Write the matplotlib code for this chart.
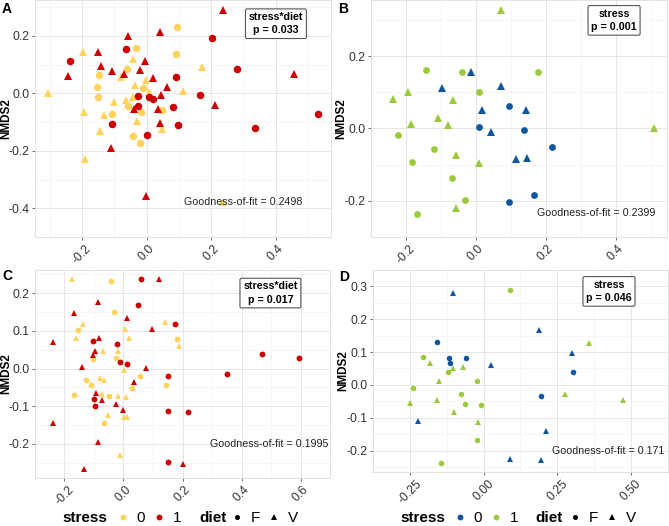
import matplotlib
matplotlib.use('Agg')
import matplotlib.pyplot as plt
from matplotlib.lines import Line2D

plt.rcParams['font.family'] = ['Liberation Sans', 'DejaVu Sans']

# colours
yellow = '#FFD35C'
red = '#CC0000'
blue = '#10569E'
green = '#9BCB3B'

# ---- panel A (stress*diet) ----
a_s1_V = [(0.238, 0.291), (-0.057, 0.200), (0.042, 0.212), (-0.151, 0.144), (-0.142, 0.095),
          (-0.243, 0.061), (-0.107, 0.076), (-0.070, 0.068), (-0.021, 0.080), (-0.005, 0.113),
          (0.020, 0.054), (0.062, 0.021), (0.044, -0.006), (0.037, -0.053), (-0.039, -0.056),
          (0.042, -0.104), (0.212, -0.041), (0.457, 0.067), (-0.109, -0.192), (-0.002, -0.359)]
a_s1_F = [(0.203, 0.192), (-0.238, 0.114), (-0.064, 0.155), (0.279, 0.084), (0.092, 0.056),
          (-0.026, -0.009), (0.009, -0.013), (0.020, -0.019), (-0.026, -0.045), (0.081, -0.049),
          (0.166, -0.006), (0.530, -0.072), (0.337, -0.121), (0.098, -0.110), (-0.107, -0.108),
          (0.000, -0.145)]
a_s0_V = [(-0.304, 0.002), (-0.198, 0.142), (0.171, 0.092), (-0.041, 0.118), (-0.080, 0.056),
          (-0.001, 0.045), (-0.037, 0.030), (0.009, 0.006), (0.113, 0.007), (-0.100, -0.032),
          (-0.063, -0.022), (-0.043, -0.014), (-0.193, -0.064), (-0.131, -0.076), (-0.030, -0.098),
          (-0.145, -0.132), (0.048, -0.124), (-0.191, -0.229), (0.236, -0.379)]
a_s0_F = [(0.093, 0.231), (0.091, 0.138), (-0.033, 0.159), (-0.148, 0.064), (-0.061, 0.084),
          (-0.152, 0.023), (-0.150, -0.014), (-0.012, 0.020), (-0.059, -0.045), (-0.018, -0.065),
          (-0.108, -0.072), (-0.043, -0.149), (-0.019, -0.172), (0.047, -0.057)]

# ---- panel B (stress) ----
b_s1_V = [(0.071, 0.327), (-0.236, 0.081), (-0.194, 0.100), (-0.064, 0.080), (-0.108, 0.028),
          (-0.186, 0.012), (-0.080, 0.010), (-0.057, -0.073), (0.009, -0.095), (-0.058, -0.220),
          (0.510, 0.002)]
b_s1_F = [(-0.144, 0.161), (-0.040, 0.156), (0.179, 0.156), (0.010, 0.101), (-0.222, -0.018),
          (-0.119, -0.056), (-0.184, -0.092), (-0.069, -0.136), (-0.031, -0.197), (-0.169, -0.237)]
b_s0_V = [(-0.013, 0.156), (-0.096, 0.113), (0.071, 0.118), (0.017, 0.050), (0.143, 0.051),
          (0.044, -0.010), (0.114, -0.083), (0.146, -0.081)]
b_s0_F = [(0.096, 0.061), (0.009, 0.003), (0.138, -0.003), (0.217, -0.051), (0.167, -0.183),
          (0.095, -0.203)]

# ---- panel C (stress*diet) ----
c_s0_V = [(-0.174, 0.236), (-0.136, 0.119), (-0.162, 0.081), (0.006, 0.104), (0.019, 0.082),
          (0.141, 0.123), (0.188, 0.059), (-0.018, 0.047), (-0.071, 0.046), (0.002, -0.003),
          (-0.080, -0.025), (-0.067, -0.031), (-0.074, -0.068), (-0.019, -0.072), (0.008, -0.076),
          (-0.052, -0.124), (0.002, -0.128), (0.012, -0.128), (-0.012, -0.228)]
c_s0_F = [(-0.041, 0.232), (-0.031, 0.151), (-0.154, 0.103), (0.182, 0.079), (-0.027, 0.027),
          (-0.102, 0.024), (0.055, -0.019), (-0.126, -0.031), (-0.109, -0.044), (0.028, -0.051),
          (0.145, -0.044), (-0.167, -0.069), (-0.048, -0.073), (-0.065, -0.145)]
c_s1_V = [(0.122, 0.236), (-0.088, 0.175), (-0.167, 0.148), (0.013, 0.133), (0.096, 0.106),
          (-0.238, 0.071), (-0.083, 0.080), (-0.095, 0.046), (-0.103, 0.037), (-0.141, 0.004),
          (0.075, 0.002), (0.035, -0.035), (-0.094, -0.065), (-0.074, -0.084), (-0.024, -0.093),
          (0.000, -0.111), (-0.238, -0.144), (-0.085, -0.195), (-0.134, -0.265), (0.202, -0.252)]
c_s1_F = [(0.061, 0.236), (0.049, 0.167), (0.176, 0.119), (-0.103, 0.073), (-0.021, 0.064),
          (0.011, 0.012), (-0.012, 0.018), (0.469, 0.039), (0.594, 0.029), (0.351, -0.015),
          (0.150, -0.020), (-0.100, -0.081), (-0.096, -0.100), (0.150, -0.113), (0.219, -0.114),
          (0.150, -0.249)]

# ---- panel D (stress) ----
d_s0_V = [(-0.103, 0.279), (0.189, 0.167), (0.298, 0.098), (0.024, 0.060), (-0.221, -0.109),
          (0.212, -0.141), (0.090, -0.225), (0.193, -0.229)]
d_s0_F = [(-0.157, 0.131), (-0.116, 0.081), (-0.113, 0.066), (-0.058, 0.083), (0.304, 0.038),
          (0.196, -0.033)]
d_s1_V = [(0.356, 0.129), (-0.183, 0.067), (-0.105, 0.051), (-0.069, 0.055), (-0.150, 0.011),
          (-0.157, -0.045), (-0.248, -0.054), (0.276, -0.028), (0.471, -0.045), (-0.102, -0.082),
          (-0.020, -0.114)]
d_s1_F = [(0.090, 0.288), (-0.205, 0.086), (-0.119, 0.039), (-0.239, -0.011), (-0.021, 0.012),
          (-0.076, -0.028), (-0.064, -0.059), (-0.008, -0.061), (-0.023, -0.169), (-0.145, -0.239)]

fig = plt.figure(figsize=(6.69, 5.26), dpi=100)


def panel(rect, groups, ms, xticks, yticks, xlabels, test, pval, gof, gof_pos, box_pos, ylab_x):
    ax = fig.add_axes(rect)
    for pts, col, mk in groups:
        xs = [p[0] for p in pts]
        ys = [p[1] for p in pts]
        size = ms * 1.15 if mk == '^' else ms
        ax.plot(xs, ys, linestyle='none', marker=mk, color=col, markersize=size,
                markeredgewidth=0)
    ax.margins(0.05)
    ax.set_xticks(xticks)
    ax.set_xticklabels(xlabels, rotation=45, ha='center', va='top')
    ax.set_yticks(yticks)
    ax.set_yticklabels(['%.1f' % t for t in yticks])
    dx = xticks[1] - xticks[0]
    dy = yticks[1] - yticks[0]
    xm = [xticks[0] - dx / 2] + [t + dx / 2 for t in xticks]
    ym = [yticks[0] - dy / 2] + [t + dy / 2 for t in yticks]
    ax.set_xticks(xm, minor=True)
    ax.set_yticks(ym, minor=True)
    ax.grid(which='major', color='#E6E6E6', linewidth=0.7)
    ax.grid(which='minor', color='#F2F2F2', linewidth=0.5)
    ax.set_axisbelow(True)
    ax.tick_params(which='minor', length=0)
    ax.tick_params(which='major', length=2.5, width=0.6, color='#555555',
                   labelsize=8.7, labelcolor='#333333', pad=1.5)
    for s in ax.spines.values():
        s.set_color('#DDDDDD')
        s.set_linewidth(0.6)
    ax.set_ylabel('NMDS2', fontsize=8.5, fontweight='bold')
    ax.yaxis.set_label_coords(ylab_x, 0.5)
    ax.text(gof_pos[0], gof_pos[1], 'Goodness-of-fit = %s' % gof, transform=ax.transAxes,
            ha='right', va='center', fontsize=7.7, color='#222222')
    ax.text(box_pos[0], box_pos[1], '%s\np = %s' % (test, pval), transform=ax.transAxes,
            ha='center', va='center', fontsize=7.7, fontweight='bold', linespacing=1.4,
            bbox=dict(boxstyle='round,pad=0.3,rounding_size=0.15', fc='white',
                      ec='#555555', lw=0.8))
    return ax


axA = panel([0.0523, 0.5494, 0.4425, 0.4506],
            [(a_s0_F, yellow, 'o'), (a_s0_V, yellow, '^'), (a_s1_F, red, 'o'), (a_s1_V, red, '^')],
            5.4, [-0.2, 0.0, 0.2, 0.4], [-0.4, -0.2, 0.0, 0.2], ['-0.2', '0.0', '0.2', '0.4'],
            'stress*diet', '0.033', '0.2498', (0.902, 0.148), (0.814, 0.90), -0.078)
axB = panel([0.5546, 0.5494, 0.4425, 0.4506],
            [(b_s1_F, green, 'o'), (b_s1_V, green, '^'), (b_s0_F, blue, 'o'), (b_s0_V, blue, '^')],
            4.9, [-0.2, 0.0, 0.2, 0.4], [-0.2, 0.0, 0.2], ['-0.2', '0.0', '0.2', '0.4'],
            'stress', '0.001', '0.2399', (0.959, 0.101), (0.821, 0.914), -0.081)
axC = panel([0.0523, 0.0913, 0.441, 0.3954],
            [(c_s0_F, yellow, 'o'), (c_s0_V, yellow, '^'), (c_s1_F, red, 'o'), (c_s1_V, red, '^')],
            4.2, [-0.2, 0.0, 0.2, 0.4, 0.6], [-0.2, -0.1, 0.0, 0.1, 0.2],
            ['-0.2', '0.0', '0.2', '0.4', '0.6'],
            'stress*diet', '0.017', '0.1995', (0.993, 0.163), (0.798, 0.889), -0.078)
axD = panel([0.5575, 0.1027, 0.441, 0.384],
            [(d_s1_F, green, 'o'), (d_s1_V, green, '^'), (d_s0_F, blue, 'o'), (d_s0_V, blue, '^')],
            4.0, [-0.25, 0.0, 0.25, 0.5], [-0.2, -0.1, 0.0, 0.1, 0.2, 0.3],
            ['-0.25', '0.00', '0.25', '0.50'],
            'stress', '0.046', '0.171', (0.986, 0.104), (0.80, 0.894), -0.08)

for lab, x, y in [('A', 0.003, 0.982), ('B', 0.505, 0.982), ('C', 0.003, 0.475), ('D', 0.507, 0.473)]:
    fig.text(x, y, lab, fontsize=10, fontweight='bold', ha='left', va='center')

# bottom legends: bold title + two keys each
leg_y = 0.015


def keys(x, handles, labels):
    fig.legend(handles, labels, loc='center left', bbox_to_anchor=(x, leg_y), ncol=2,
               frameon=False, fontsize=11, handlelength=0.6, handletextpad=0.6,
               columnspacing=0.6, borderpad=0, borderaxespad=0)


def dot(c, mk='o', ms=4.2):
    return Line2D([], [], linestyle='none', marker=mk, color=c, markersize=ms,
                  markeredgewidth=0)


for tx, x0, c0, c1 in [(0.094, 0.177, yellow, red), (0.598, 0.6807, blue, green)]:
    fig.text(tx, leg_y, 'stress', fontsize=11, fontweight='bold', ha='left', va='center')
    keys(x0, [dot(c0), dot(c1)], ['0', '1'])

for tx, x0 in [(0.2975, 0.3474), (0.801, 0.8526)]:
    fig.text(tx, leg_y, 'diet', fontsize=11, fontweight='bold', ha='left', va='center')
    keys(x0, [dot('black', 'o', 3.6), dot('black', '^', 4.0)], ['F', 'V'])

fig.savefig('out.png', dpi=100)
